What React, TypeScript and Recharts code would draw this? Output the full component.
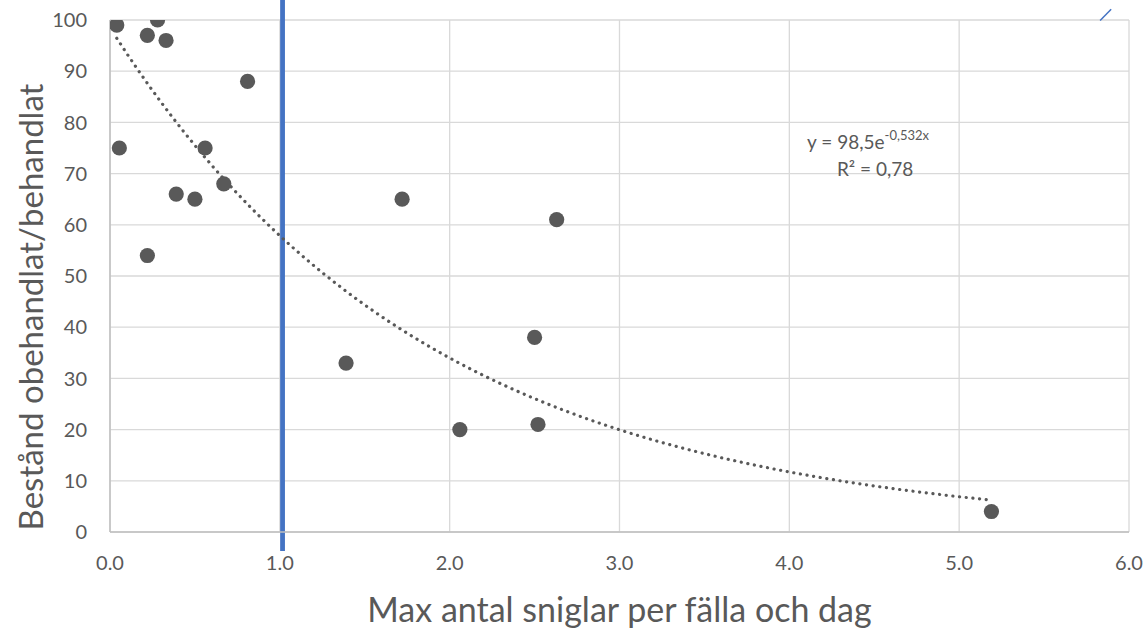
import React from 'react';
import {
  ScatterChart,
  Scatter,
  XAxis,
  YAxis,
  CartesianGrid,
  ReferenceLine,
  ReferenceDot,
  Label,
} from 'recharts';

const snailX = [0.04, 0.055, 0.22, 0.22, 0.28, 0.33, 0.39, 0.5, 0.56, 0.67, 0.81, 1.39, 1.72, 2.06, 2.5, 2.52, 2.63, 5.19];
const standY = [99, 75, 97, 54, 100, 96, 66, 65, 75, 68, 88, 33, 65, 20, 38, 21, 61, 4];

// Exponential trendline shown in the chart: y = 98.5 e^(-0.532 x)
const trendA = 98.5;
const trendB = -0.532;
const trendRange = [0.04, 5.19];

const xTicks = [0, 1, 2, 3, 4, 5, 6];
const yTicks = [0, 10, 20, 30, 40, 50, 60, 70, 80, 90, 100];

const markerX = [1.016];
const markerY = [-3.7, 104];
const strokeX = [5.83, 5.895];
const strokeY = [99.9, 102.1];

const annotationPos = { x: 4.505, y: 74.8 };

const points = snailX.map((x, i) => ({ x, y: standY[i] }));

const trendData: { x: number; y: number }[] = [];
{
  const steps = 80;
  for (let i = 0; i <= steps; i++) {
    const x = trendRange[0] + ((trendRange[1] - trendRange[0]) * i) / steps;
    trendData.push({ x, y: trendA * Math.exp(trendB * x) });
  }
}

const FONT = "Lato, 'Open Sans', sans-serif";
const GRAY = '#595959';
const BLUE = '#4473C3';

const Dot = (props: any) => <circle cx={props.cx} cy={props.cy} r={7.6} fill={GRAY} />;
const NoDot = () => <g />;

const YTitle = (props: any) => {
  const vb = props.viewBox || { x: 0, y: 0 };
  const cx = vb.x + 43;
  const cy = 307;
  return (
    <text
      x={cx}
      y={cy}
      transform={`rotate(-90, ${cx}, ${cy})`}
      textAnchor="middle"
      fontSize={33}
      fill={GRAY}
      fontFamily={FONT}
    >
      Bestånd obehandlat/behandlat
    </text>
  );
};

const XTitle = (props: any) => {
  const vb = props.viewBox || { x: 0, y: 0, width: 0, height: 0 };
  const cx = vb.x + vb.width / 2;
  return (
    <text x={cx} y={vb.y + 90} textAnchor="middle" fontSize={34} fill={GRAY} fontFamily={FONT}>
      Max antal sniglar per fälla och dag
    </text>
  );
};

const Annotation = (props: any) => {
  const vb = props.viewBox || { x: 0, y: 0 };
  const cx = vb.x + (vb.width || 0) / 2;
  const cy = vb.y + (vb.height || 0) / 2;
  return (
    <g fontFamily={FONT} fill={GRAY}>
      <text x={cx - 68} y={cy} fontSize={19} textAnchor="start">
        y = 98,5e
        <tspan fontSize={13} dy={-9}>-0,532x</tspan>
      </text>
      <text x={cx} y={cy + 27} fontSize={19} textAnchor="middle">
        R² = 0,78
      </text>
    </g>
  );
};

export default function App() {
  return (
    <div style={{ position: 'absolute', left: 0, top: 0, width: 1147, height: 628, background: '#fff' }}>
      <ScatterChart
        width={1147}
        height={628}
        margin={{ top: 20, right: 18, bottom: 0, left: 0 }}
        style={{ fontFamily: FONT }}
      >
        <CartesianGrid stroke="#D9D9D9" strokeWidth={1.3} />
        <XAxis
          type="number"
          dataKey="x"
          domain={[0, 6]}
          ticks={xTicks}
          interval={0}
          tickFormatter={(v: number) => v.toFixed(1)}
          height={96}
          tickLine={false}
          tickSize={0}
          tickMargin={24}
          axisLine={{ stroke: '#BFBFBF', strokeWidth: 1.5 }}
          tick={{ fill: GRAY, fontSize: 20, fontFamily: FONT }}
          allowDataOverflow
        >
          <Label content={<XTitle />} />
        </XAxis>
        <YAxis
          type="number"
          dataKey="y"
          domain={[0, 100]}
          ticks={yTicks}
          interval={0}
          width={110}
          tickLine={false}
          tickSize={0}
          tickMargin={23}
          axisLine={{ stroke: '#BFBFBF', strokeWidth: 1.5 }}
          tick={{ fill: GRAY, fontSize: 20, fontFamily: FONT }}
          allowDataOverflow
        >
          <Label content={<YTitle />} />
        </YAxis>
        <Scatter
          data={trendData}
          isAnimationActive={false}
          shape={NoDot}
          line={{ stroke: GRAY, strokeWidth: 3.2, strokeDasharray: '0.1 6.6', strokeLinecap: 'round' }}
          lineType="joint"
        />
        <Scatter data={points} isAnimationActive={false} shape={Dot} />
        <ReferenceLine
          segment={[
            { x: markerX[0], y: markerY[0] },
            { x: markerX[0], y: markerY[1] },
          ]}
          stroke={BLUE}
          strokeWidth={4.8}
          ifOverflow="visible"
        />
        <ReferenceLine
          segment={[
            { x: strokeX[0], y: strokeY[0] },
            { x: strokeX[1], y: strokeY[1] },
          ]}
          stroke={BLUE}
          strokeWidth={1.5}
          ifOverflow="visible"
        />
        <ReferenceDot
          x={annotationPos.x}
          y={annotationPos.y}
          r={0}
          fill="none"
          stroke="none"
          ifOverflow="visible"
          label={<Annotation />}
        />
      </ScatterChart>
    </div>
  );
}
